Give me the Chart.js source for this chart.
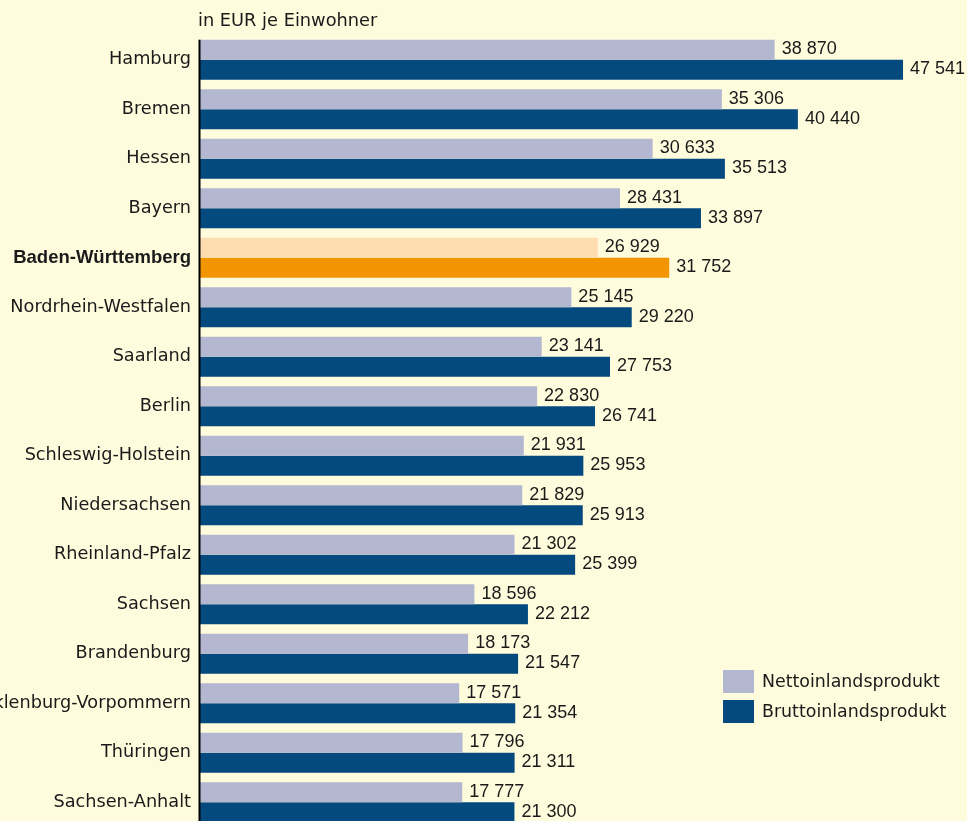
<!DOCTYPE html>
<html>
<head>
<meta charset="utf-8">
<script src="https://cdn.jsdelivr.net/npm/chart.js@4/dist/chart.umd.min.js"></script>
<style>
  html, body { margin: 0; padding: 0; overflow: hidden; background: #fffbdd; }
  #wrap { position: relative; width: 967px; height: 827px; }
</style>
</head>
<body>
<div id="wrap"><canvas id="c" width="967" height="827"></canvas></div>
<script>
// ---- data ----
const categories = [
  "Hamburg", "Bremen", "Hessen", "Bayern", "Baden-Württemberg",
  "Nordrhein-Westfalen", "Saarland", "Berlin", "Schleswig-Holstein",
  "Niedersachsen", "Rheinland-Pfalz", "Sachsen", "Brandenburg",
  "Mecklenburg-Vorpommern", "Thüringen", "Sachsen-Anhalt"
];
const nettoinlandsprodukt = [
  38870, 35306, 30633, 28431, 26929, 25145, 23141, 22830, 21931,
  21829, 21302, 18596, 18173, 17571, 17796, 17777
];
const bruttoinlandsprodukt = [
  47541, 40440, 35513, 33897, 31752, 29220, 27753, 26741, 25953,
  25913, 25399, 22212, 21547, 21354, 21311, 21300
];
const seriesNames = ["Nettoinlandsprodukt", "Bruttoinlandsprodukt"];
const unitLabel = "in EUR je Einwohner";
const highlightCategory = "Baden-Württemberg";

// ---- styles ----
const BG = "#fffbdd";
const TEXT = "#1a1a1a";
const LIGHT = "#b3b7d0", DARK = "#044a7e";
const LIGHT_HL = "#fddcb0", DARK_HL = "#f39500";
const LABEL_FONT = "'DejaVu Sans', sans-serif";
const LABEL_SIZE = 17.7;
const LEGEND_SIZE = 17.4;
const NUM_FONT = "'Liberation Sans', Arial, sans-serif";
const hlIndex = categories.indexOf(highlightCategory);

function fmt(v) { return String(v).replace(/\B(?=(\d{3})+(?!\d))/g, " "); }

const bgPlugin = {
  id: "bg",
  beforeDraw(chart) {
    const ctx = chart.ctx;
    ctx.save();
    ctx.fillStyle = BG;
    ctx.fillRect(0, 0, chart.width, chart.height);
    ctx.restore();
  }
};

const decoPlugin = {
  id: "deco",
  afterDatasetsDraw(chart) {
    const ctx = chart.ctx;
    const xs = chart.scales.x;
    ctx.save();
    // value labels
    ctx.fillStyle = TEXT;
    ctx.font = "18px " + NUM_FONT;
    ctx.textAlign = "left";
    ctx.textBaseline = "middle";
    chart.data.datasets.forEach((ds, di) => {
      const meta = chart.getDatasetMeta(di);
      meta.data.forEach((el, i) => {
        ctx.fillText(fmt(ds.data[i]), el.x + 7, el.y - 0.5);
      });
    });
    // axis line
    const first = chart.getDatasetMeta(0).data[0];
    const top = first.y - first.height / 2;
    const x0 = xs.getPixelForValue(0);
    ctx.fillStyle = "#000";
    ctx.fillRect(x0 - 0.5, top, 2, chart.height - top);
    // unit label
    ctx.fillStyle = TEXT;
    ctx.font = "17.8px " + LABEL_FONT;
    ctx.textBaseline = "alphabetic";
    ctx.fillText(unitLabel, x0 - 1, 25.7);
    // legend
    ctx.font = LEGEND_SIZE + "px " + LABEL_FONT;
    const colors = [LIGHT, DARK];
    seriesNames.forEach((name, k) => {
      const y = 670 + k * 30;
      ctx.fillStyle = colors[k];
      ctx.fillRect(723, y, 31, 23);
      ctx.fillStyle = TEXT;
      ctx.fillText(name, 762, y + 17);
    });
    ctx.restore();
  }
};

new Chart(document.getElementById("c"), {
  type: "bar",
  data: {
    labels: categories,
    datasets: [
      {
        label: seriesNames[0],
        data: nettoinlandsprodukt,
        backgroundColor: (c) => c.dataIndex === hlIndex ? LIGHT_HL : LIGHT
      },
      {
        label: seriesNames[1],
        data: bruttoinlandsprodukt,
        backgroundColor: (c) => c.dataIndex === hlIndex ? DARK_HL : DARK
      }
    ]
  },
  options: {
    indexAxis: "y",
    responsive: false,
    animation: false,
    devicePixelRatio: 1,
    layout: { padding: { top: 35, bottom: 0, left: 0, right: 0 } },
    datasets: {
      bar: { barThickness: 20, borderWidth: 0, inflateAmount: 0 }
    },
    plugins: {
      legend: { display: false },
      tooltip: { enabled: false },
      title: { display: false }
    },
    scales: {
      x: { display: false, min: 0, max: 51860 },
      y: {
        grid: { display: false, drawTicks: false },
        border: { display: false },
        afterFit(scale) {
          scale.width = 199;
          scale.paddingTop = 0;
          scale.paddingBottom = 0;
          scale.paddingLeft = 0;
          scale.paddingRight = 0;
        },
        ticks: {
          autoSkip: false,
          padding: 8,
          color: TEXT,
          font: (c) => c.index === hlIndex
            ? { family: NUM_FONT, size: 18.5, weight: "bold" }
            : { family: LABEL_FONT, size: LABEL_SIZE, weight: "normal" }
        }
      }
    }
  },
  plugins: [bgPlugin, decoPlugin]
});
</script>
</body>
</html>
